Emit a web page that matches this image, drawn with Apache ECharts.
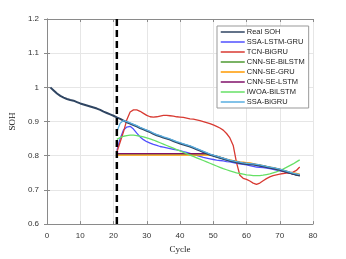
<!DOCTYPE html>
<html><head><meta charset="utf-8">
<script src="https://cdn.jsdelivr.net/npm/echarts@6/dist/echarts.min.js"></script>
<style>html,body{margin:0;padding:0;background:#fff}#c{width:346px;height:259px}</style>
</head><body><div id="c"></div>
<script>
const xTicks = [0,10,20,30,40,50,60,70,80];
const yTicks = [0.6,0.7,0.8,0.9,1.0,1.1,1.2];
const cutCycle = 21;
const realCycles = [1,2,3,4,5,6,7,8,9,10,11,12,13,14,15,16,17,18,19,20,21,22,23,24,25,26,27,28,29,30,31,32,33,34,35,36,37,38,39,40,41,42,43,44,45,46,47,48,49,50,51,52,53,54,55,56,57,58,59,60,61,62,63,64,65,66,67,68,69,70,71,72,73,74,75,76];
const realSOH = [1.000,0.991,0.982,0.975,0.970,0.966,0.963,0.961,0.957,0.953,0.950,0.947,0.944,0.941,0.938,0.934,0.929,0.925,0.921,0.917,0.912,0.908,0.903,0.898,0.894,0.890,0.886,0.881,0.877,0.873,0.869,0.864,0.860,0.857,0.853,0.850,0.847,0.843,0.839,0.836,0.833,0.830,0.827,0.823,0.819,0.815,0.811,0.807,0.803,0.800,0.797,0.794,0.791,0.788,0.785,0.783,0.781,0.779,0.777,0.776,0.775,0.774,0.773,0.771,0.769,0.767,0.765,0.763,0.761,0.759,0.756,0.753,0.750,0.747,0.744,0.742];
const predCycles = [21,22,23,24,25,26,27,28,29,30,31,32,33,34,35,36,37,38,39,40,41,42,43,44,45,46,47,48,49,50,51,52,53,54,55,56,57,58,59,60,61,62,63,64,65,66,67,68,69,70,71,72,73,74,75,76];
const ssaLstmGru = [0.815,0.850,0.875,0.884,0.886,0.878,0.866,0.855,0.847,0.841,0.837,0.833,0.830,0.827,0.825,0.823,0.821,0.819,0.817,0.815,0.812,0.810,0.807,0.804,0.801,0.798,0.795,0.793,0.791,0.789,0.787,0.786,0.785,0.783,0.782,0.780,0.778,0.776,0.775,0.773,0.771,0.769,0.767,0.766,0.765,0.764,0.762,0.760,0.758,0.756,0.754,0.751,0.749,0.747,0.745,0.744];
const tcnBiGru = [0.810,0.840,0.870,0.905,0.928,0.934,0.934,0.930,0.924,0.918,0.914,0.913,0.914,0.916,0.918,0.918,0.917,0.916,0.914,0.913,0.912,0.910,0.908,0.907,0.905,0.903,0.900,0.897,0.894,0.890,0.886,0.881,0.875,0.865,0.852,0.830,0.780,0.743,0.734,0.731,0.726,0.720,0.716,0.720,0.727,0.733,0.738,0.742,0.744,0.746,0.748,0.749,0.750,0.752,0.757,0.767];
const cnnSeBiLstm = [0.805,0.805,0.805,0.805,0.805,0.805,0.805,0.805,0.805,0.805,0.805,0.805,0.805,0.805,0.805,0.805,0.805,0.805,0.805,0.805,0.805,0.805,0.805,0.805,0.805,0.805,0.805,0.805,0.803,0.800,0.797,0.794,0.791,0.788,0.786,0.784,0.782,0.780,0.778,0.777,0.776,0.775,0.774,0.772,0.770,0.768,0.766,0.764,0.762,0.759,0.756,0.753,0.750,0.747,0.744,0.742];
const cnnSeGru = [0.802,0.802,0.802,0.802,0.802,0.802,0.802,0.802,0.802,0.802,0.802,0.802,0.802,0.802,0.802,0.802,0.802,0.802,0.802,0.802,0.802,0.802,0.802,0.802,0.802,0.802,0.802,0.802,0.802,0.801,0.799,0.796,0.793,0.790,0.788,0.786,0.784,0.782,0.781,0.780,0.779,0.777,0.775,0.773,0.771,0.769,0.767,0.765,0.763,0.761,0.758,0.755,0.752,0.750,0.748,0.746];
const cnnSeLstm = [0.806,0.806,0.806,0.806,0.806,0.806,0.806,0.806,0.806,0.806,0.806,0.806,0.806,0.806,0.806,0.806,0.806,0.806,0.806,0.806,0.806,0.806,0.806,0.806,0.806,0.806,0.806,0.806,0.804,0.801,0.798,0.795,0.792,0.789,0.786,0.784,0.782,0.780,0.778,0.777,0.776,0.775,0.773,0.771,0.769,0.767,0.765,0.763,0.761,0.758,0.755,0.752,0.749,0.746,0.744,0.742];
const iwoaBiLstm = [0.848,0.853,0.857,0.859,0.860,0.860,0.859,0.857,0.855,0.852,0.849,0.846,0.842,0.838,0.834,0.830,0.826,0.822,0.818,0.814,0.810,0.806,0.802,0.798,0.794,0.790,0.786,0.782,0.778,0.774,0.770,0.766,0.762,0.759,0.756,0.753,0.750,0.748,0.746,0.744,0.743,0.742,0.742,0.742,0.743,0.745,0.747,0.750,0.753,0.757,0.761,0.766,0.771,0.776,0.782,0.788];
const ssaBiGru = [0.870,0.895,0.903,0.900,0.896,0.892,0.888,0.883,0.879,0.875,0.871,0.866,0.862,0.859,0.855,0.852,0.849,0.845,0.841,0.838,0.835,0.832,0.829,0.825,0.821,0.817,0.813,0.809,0.805,0.802,0.799,0.796,0.793,0.790,0.787,0.785,0.783,0.781,0.779,0.778,0.777,0.776,0.775,0.773,0.771,0.769,0.767,0.765,0.763,0.761,0.758,0.755,0.752,0.749,0.747,0.745];

const names = ['Real SOH','SSA-LSTM-GRU','TCN-BiGRU','CNN-SE-BiLSTM','CNN-SE-GRU','CNN-SE-LSTM','IWOA-BiLSTM','SSA-BiGRU'];
const colors = ['#2f4562','#5050ff','#d83a32','#4e9a32','#ff9a00','#80106a','#66e066','#58aee0'];
const predVals = [ssaLstmGru,tcnBiGru,cnnSeBiLstm,cnnSeGru,cnnSeLstm,iwoaBiLstm,ssaBiGru];

const pair = (xs, ys) => xs.map((x,i)=>[x,ys[i]]);
const series = [];
series.push({name:names[0],type:'line',data:pair(realCycles,realSOH),symbol:'none',lineStyle:{width:2,color:colors[0]},itemStyle:{color:colors[0]},z:3});
predVals.forEach((v,i)=>{
  series.push({name:names[i+1],type:'line',data:pair(predCycles,v),symbol:'none',lineStyle:{width:1.3,color:colors[i+1]},itemStyle:{color:colors[i+1]},z: i===6?4:2});
});
series.push({name:'cut',type:'line',data:[[cutCycle,yTicks[0]],[cutCycle,yTicks[yTicks.length-1]]],symbol:'none',silent:true,lineStyle:{width:2.5,color:'#000',type:[7,4]},z:5});

const axisCommon = {
  axisLine:{show:true,lineStyle:{color:'#8a8a8a',width:1}},
  axisTick:{show:true,inside:true,length:3,lineStyle:{color:'#8a8a8a'}},
  axisLabel:{color:'#333',fontSize:8,fontFamily:'Liberation Sans'},
  splitLine:{show:true,lineStyle:{color:'#e6e6e6',width:1}}
};
const chart = echarts.init(document.getElementById('c'),null,{renderer:'canvas'});
chart.setOption({
  animation:false,
  backgroundColor:'#fff',
  grid:{left:45,right:33,top:19,bottom:29,containLabel:false},
  legend:{data:names,orient:'vertical',left:217,top:26,itemWidth:24,itemHeight:8,itemGap:2,padding:[2,4,2,3],
    backgroundColor:'#fff',borderColor:'#999',borderWidth:1,borderRadius:0,
    itemStyle:{opacity:0},lineStyle:{width:1.5},
    textStyle:{fontSize:7.5,fontFamily:'Liberation Sans',color:'#222',padding:[0,0,0,-3]}},
  xAxis:[Object.assign({type:'value',min:xTicks[0],max:xTicks[xTicks.length-1],interval:10,
    name:'Cycle',nameLocation:'middle',nameGap:18,nameTextStyle:{fontFamily:'Liberation Serif',fontSize:9,color:'#222'}},axisCommon),
    {type:'value',position:'top',min:xTicks[0],max:xTicks[xTicks.length-1],interval:10,axisLine:{show:true,lineStyle:{color:'#8a8a8a'}},axisTick:{show:true,inside:true,length:3,lineStyle:{color:'#8a8a8a'}},axisLabel:{show:false},splitLine:{show:false}}],
  yAxis:[Object.assign({type:'value',min:yTicks[0],max:yTicks[yTicks.length-1],interval:0.1,
    name:'SOH',nameLocation:'middle',nameGap:19,nameRotate:90,nameTextStyle:{fontFamily:'Liberation Serif',fontSize:9,color:'#222'}},
    axisCommon,{axisLabel:Object.assign({},axisCommon.axisLabel,{formatter:v=>String(+v.toFixed(1))})}),
    {type:'value',position:'right',min:yTicks[0],max:yTicks[yTicks.length-1],interval:0.1,axisLine:{show:true,lineStyle:{color:'#8a8a8a'}},axisTick:{show:true,inside:true,length:3,lineStyle:{color:'#8a8a8a'}},axisLabel:{show:false},splitLine:{show:false}}],
  series:series
});
</script></body></html>
